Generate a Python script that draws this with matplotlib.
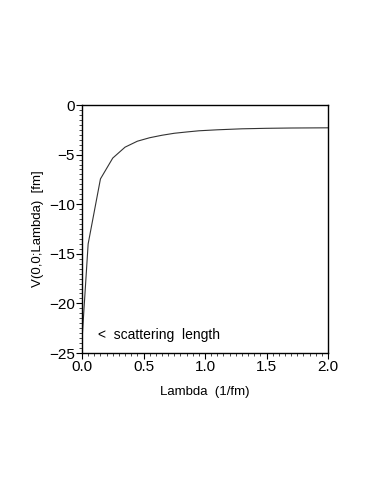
import numpy as np
import matplotlib
matplotlib.use("Agg")
import matplotlib.pyplot as plt
from matplotlib.ticker import MultipleLocator

# V(0,0;Lambda)
lam = [0.0, 0.05, 0.15, 0.25, 0.35, 0.45, 0.55, 0.65, 0.75, 0.85, 0.95,
       1.1, 1.3, 1.5, 1.7, 2.0]
v00 = [-23.7, -14.0, -7.45, -5.35, -4.25, -3.65, -3.3, -3.05, -2.85, -2.72,
       -2.6, -2.5, -2.4, -2.35, -2.32, -2.3]

plt.rcParams['font.family'] = ['Liberation Sans', 'DejaVu Sans']

fig = plt.figure(figsize=(3.82, 4.94), dpi=100)
ax = fig.add_axes([82/382, 1 - 353/494, 246/382, 248/494])
ax.plot(lam, v00, color='#333333', lw=0.8)
ax.text(0.13, -23.2, '<  scattering  length', fontsize=10, va='center')

ax.set_xlim(0, 2)
ax.set_ylim(-25, 0)
ax.xaxis.set_major_locator(MultipleLocator(0.5))
ax.xaxis.set_minor_locator(MultipleLocator(0.05))
ax.yaxis.set_major_locator(MultipleLocator(5))
ax.yaxis.set_minor_locator(MultipleLocator(0.5))
ax.tick_params(which='major', direction='out', length=4, width=0.8, labelsize=11, pad=1)
ax.tick_params(which='minor', direction='out', length=2, width=0.5)
ax.yaxis.set_major_formatter(plt.FuncFormatter(lambda v, p: '%d' % v if v >= 0 else '\u2212%d' % -v))
ax.xaxis.set_major_formatter(plt.FuncFormatter(lambda v, p: '%.1f' % v))
for s in ax.spines.values():
    s.set_linewidth(1.0)

ax.set_xlabel('Lambda  (1/fm)', fontsize=9.5, labelpad=9)
ax.set_ylabel('V(0,0;Lambda)  [fm]', fontsize=9.5, labelpad=4)

fig.savefig('out.png', dpi=100)
